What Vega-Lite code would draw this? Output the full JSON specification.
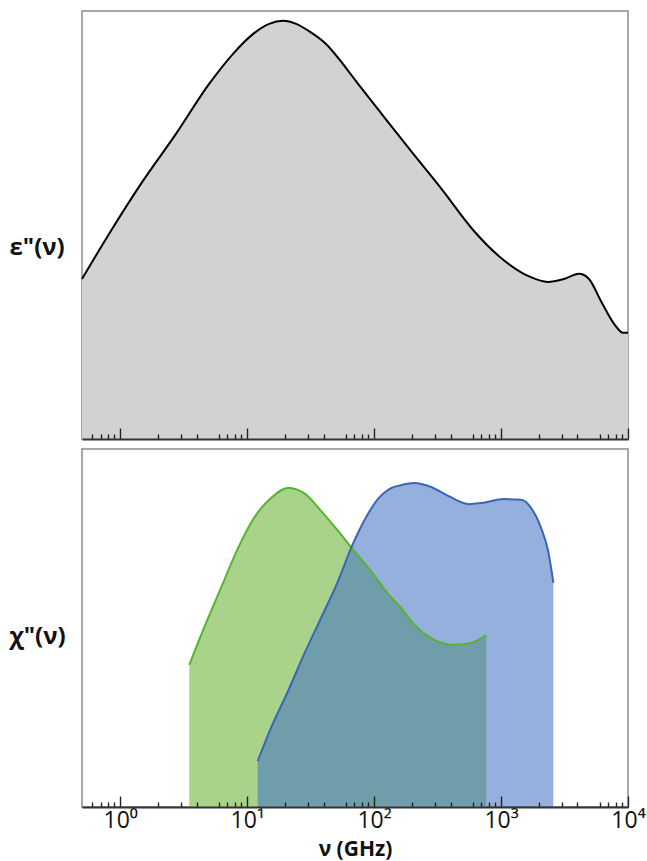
{
  "$schema": "https://vega.github.io/schema/vega-lite/v6.json",
  "autosize": {"type": "pad"},
  "padding": {"left": 8, "top": 10, "right": 0, "bottom": 0},
  "background": "white",
  "config": {
    "font": "Open Sans",
    "view": {"stroke": "#8c8c8c", "strokeWidth": 1.5},
    "axis": {"zindex": 2}
  },
  "datasets": {
    "eps": [
      {"freq": 0.5, "val": 0.374},
      {"freq": 0.816, "val": 0.479},
      {"freq": 1.51, "val": 0.603},
      {"freq": 2.75, "val": 0.713},
      {"freq": 5.0, "val": 0.829},
      {"freq": 7.74, "val": 0.9},
      {"freq": 11.1, "val": 0.946},
      {"freq": 14.9, "val": 0.97},
      {"freq": 19.2, "val": 0.977},
      {"freq": 24.3, "val": 0.97},
      {"freq": 30.7, "val": 0.953},
      {"freq": 41.8, "val": 0.923},
      {"freq": 56.9, "val": 0.876},
      {"freq": 72, "val": 0.836},
      {"freq": 113, "val": 0.762},
      {"freq": 195, "val": 0.673},
      {"freq": 336, "val": 0.586},
      {"freq": 612, "val": 0.486},
      {"freq": 1000, "val": 0.423},
      {"freq": 1630, "val": 0.381},
      {"freq": 2343, "val": 0.367},
      {"freq": 3133, "val": 0.374},
      {"freq": 4113, "val": 0.386},
      {"freq": 4930, "val": 0.374},
      {"freq": 6133, "val": 0.322},
      {"freq": 7770, "val": 0.269},
      {"freq": 9140, "val": 0.248},
      {"freq": 10000, "val": 0.248}
    ],
    "chi": [
      {"series": "green", "freq": 3.5, "val": 0.397},
      {"series": "green", "freq": 4.57, "val": 0.5},
      {"series": "green", "freq": 6.22, "val": 0.612},
      {"series": "green", "freq": 8.47, "val": 0.723},
      {"series": "green", "freq": 11.3, "val": 0.807},
      {"series": "green", "freq": 15.4, "val": 0.863},
      {"series": "green", "freq": 21.0, "val": 0.891},
      {"series": "green", "freq": 28.1, "val": 0.877},
      {"series": "green", "freq": 38.2, "val": 0.827},
      {"series": "green", "freq": 52.0, "val": 0.771},
      {"series": "green", "freq": 65.8, "val": 0.726},
      {"series": "green", "freq": 94.6, "val": 0.659},
      {"series": "green", "freq": 129, "val": 0.595},
      {"series": "green", "freq": 163, "val": 0.556},
      {"series": "green", "freq": 206, "val": 0.511},
      {"series": "green", "freq": 281, "val": 0.472},
      {"series": "green", "freq": 427, "val": 0.453},
      {"series": "green", "freq": 580, "val": 0.458},
      {"series": "green", "freq": 765, "val": 0.48},
      {"series": "blue", "freq": 12.1, "val": 0.128},
      {"series": "blue", "freq": 15.4, "val": 0.221},
      {"series": "blue", "freq": 21.0, "val": 0.324},
      {"series": "blue", "freq": 28.1, "val": 0.427},
      {"series": "blue", "freq": 38.2, "val": 0.528},
      {"series": "blue", "freq": 52.0, "val": 0.631},
      {"series": "blue", "freq": 65.8, "val": 0.723},
      {"series": "blue", "freq": 83.3, "val": 0.799},
      {"series": "blue", "freq": 107, "val": 0.86},
      {"series": "blue", "freq": 136, "val": 0.891},
      {"series": "blue", "freq": 163, "val": 0.899},
      {"series": "blue", "freq": 206, "val": 0.905},
      {"series": "blue", "freq": 281, "val": 0.894},
      {"series": "blue", "freq": 383, "val": 0.869},
      {"series": "blue", "freq": 560, "val": 0.846},
      {"series": "blue", "freq": 696, "val": 0.849},
      {"series": "blue", "freq": 1057, "val": 0.86},
      {"series": "blue", "freq": 1439, "val": 0.858},
      {"series": "blue", "freq": 1726, "val": 0.835},
      {"series": "blue", "freq": 2070, "val": 0.779},
      {"series": "blue", "freq": 2350, "val": 0.715},
      {"series": "blue", "freq": 2583, "val": 0.626}
    ]
  },
  "spacing": 10,
  "bounds": "flush",
  "vconcat": [
    {
      "width": 546,
      "height": 428,
      "data": {"name": "eps"},
      "encoding": {
        "x": {
          "field": "freq", "type": "quantitative",
          "scale": {"type": "log", "domain": [0.5, 10000], "nice": false},
          "axis": {
            "orient": "bottom", "zindex": 2,
            "values": [0.6,0.7,0.8,0.9,1,2,3,4,6,7,8,9,10,20,30,40,60,70,80,90,100,200,300,400,600,700,800,900,1000,2000,3000,4000,6000,7000,8000,9000,10000],
            "ticks": true,
            "tickSize": {"condition": {"test": "datum.value==1||datum.value==10||datum.value==100||datum.value==1000||datum.value==10000", "value": -11}, "value": -5},
            "tickColor": "#222", "tickWidth": 1.4,
            "domainColor": "#333", "domainWidth": 2,
            "grid": false, "labels": false, "title": null
          }
        },
        "y": {
          "field": "val", "type": "quantitative",
          "scale": {"domain": [0, 1], "nice": false},
          "axis": {
            "title": "ε\"(ν)", "titleAngle": 0, "titleAlign": "left", "titleBaseline": "middle",
            "titleX": -73, "titleY": 236, "titleFontSize": 24, "titleFontWeight": "bold", "titleColor": "#111",
            "labels": false, "ticks": false, "domain": false, "grid": false
          }
        }
      },
      "layer": [
        {"mark": {"type": "area", "interpolate": "monotone", "color": "#d1d2d4"}},
        {"mark": {"type": "line", "interpolate": "monotone", "color": "#000000", "strokeWidth": 2}}
      ]
    },
    {
      "width": 546,
      "height": 358,
      "data": {"name": "chi"},
      "encoding": {
        "x": {
          "field": "freq", "type": "quantitative",
          "scale": {"type": "log", "domain": [0.5, 10000], "nice": false},
          "axis": {
            "orient": "bottom", "zindex": 2,
            "values": [0.6,0.7,0.8,0.9,1,2,3,4,6,7,8,9,10,20,30,40,60,70,80,90,100,200,300,400,600,700,800,900,1000,2000,3000,4000,6000,7000,8000,9000,10000],
            "ticks": true,
            "tickSize": {"condition": {"test": "datum.value==1||datum.value==10||datum.value==100||datum.value==1000||datum.value==10000", "value": -11}, "value": -5},
            "tickColor": "#222", "tickWidth": 1.4,
            "domainColor": "#333", "domainWidth": 2,
            "grid": false,
            "labelExpr": "datum.value == 1 ? '10⁰' : datum.value == 10 ? '10¹' : datum.value == 100 ? '10²' : datum.value == 1000 ? '10³' : datum.value == 10000 ? '10⁴' : ''",
            "labelFontSize": 23, "labelColor": "#111", "labelPadding": 13,
            "labelFlush": false, "labelOverlap": false, "labelBound": false,
            "title": "ν (GHz)", "titleFontSize": 21, "titleFontWeight": "bold", "titleColor": "#111", "titlePadding": 0
          }
        },
        "y": {
          "field": "val", "type": "quantitative",
          "scale": {"domain": [0, 1], "nice": false},
          "axis": {
            "title": "χ\"(ν)", "titleAngle": 0, "titleAlign": "left", "titleBaseline": "middle",
            "titleX": -73, "titleY": 187, "titleFontSize": 24, "titleFontWeight": "bold", "titleColor": "#111",
            "labels": false, "ticks": false, "domain": false, "grid": false
          }
        }
      },
      "layer": [
        {"transform": [{"filter": "datum.series == 'green'"}], "mark": {"type": "area", "interpolate": "monotone", "color": "#a9d38a"}},
        {"transform": [{"filter": "datum.series == 'blue'"}], "mark": {"type": "area", "interpolate": "monotone", "color": "#4472c4", "opacity": 0.56}},
        {"transform": [{"filter": "datum.series == 'green'"}], "mark": {"type": "line", "interpolate": "monotone", "color": "#55b52f", "strokeWidth": 2}},
        {"transform": [{"filter": "datum.series == 'blue'"}], "mark": {"type": "line", "interpolate": "monotone", "color": "#3a66b8", "strokeWidth": 2}}
      ]
    }
  ]
}
